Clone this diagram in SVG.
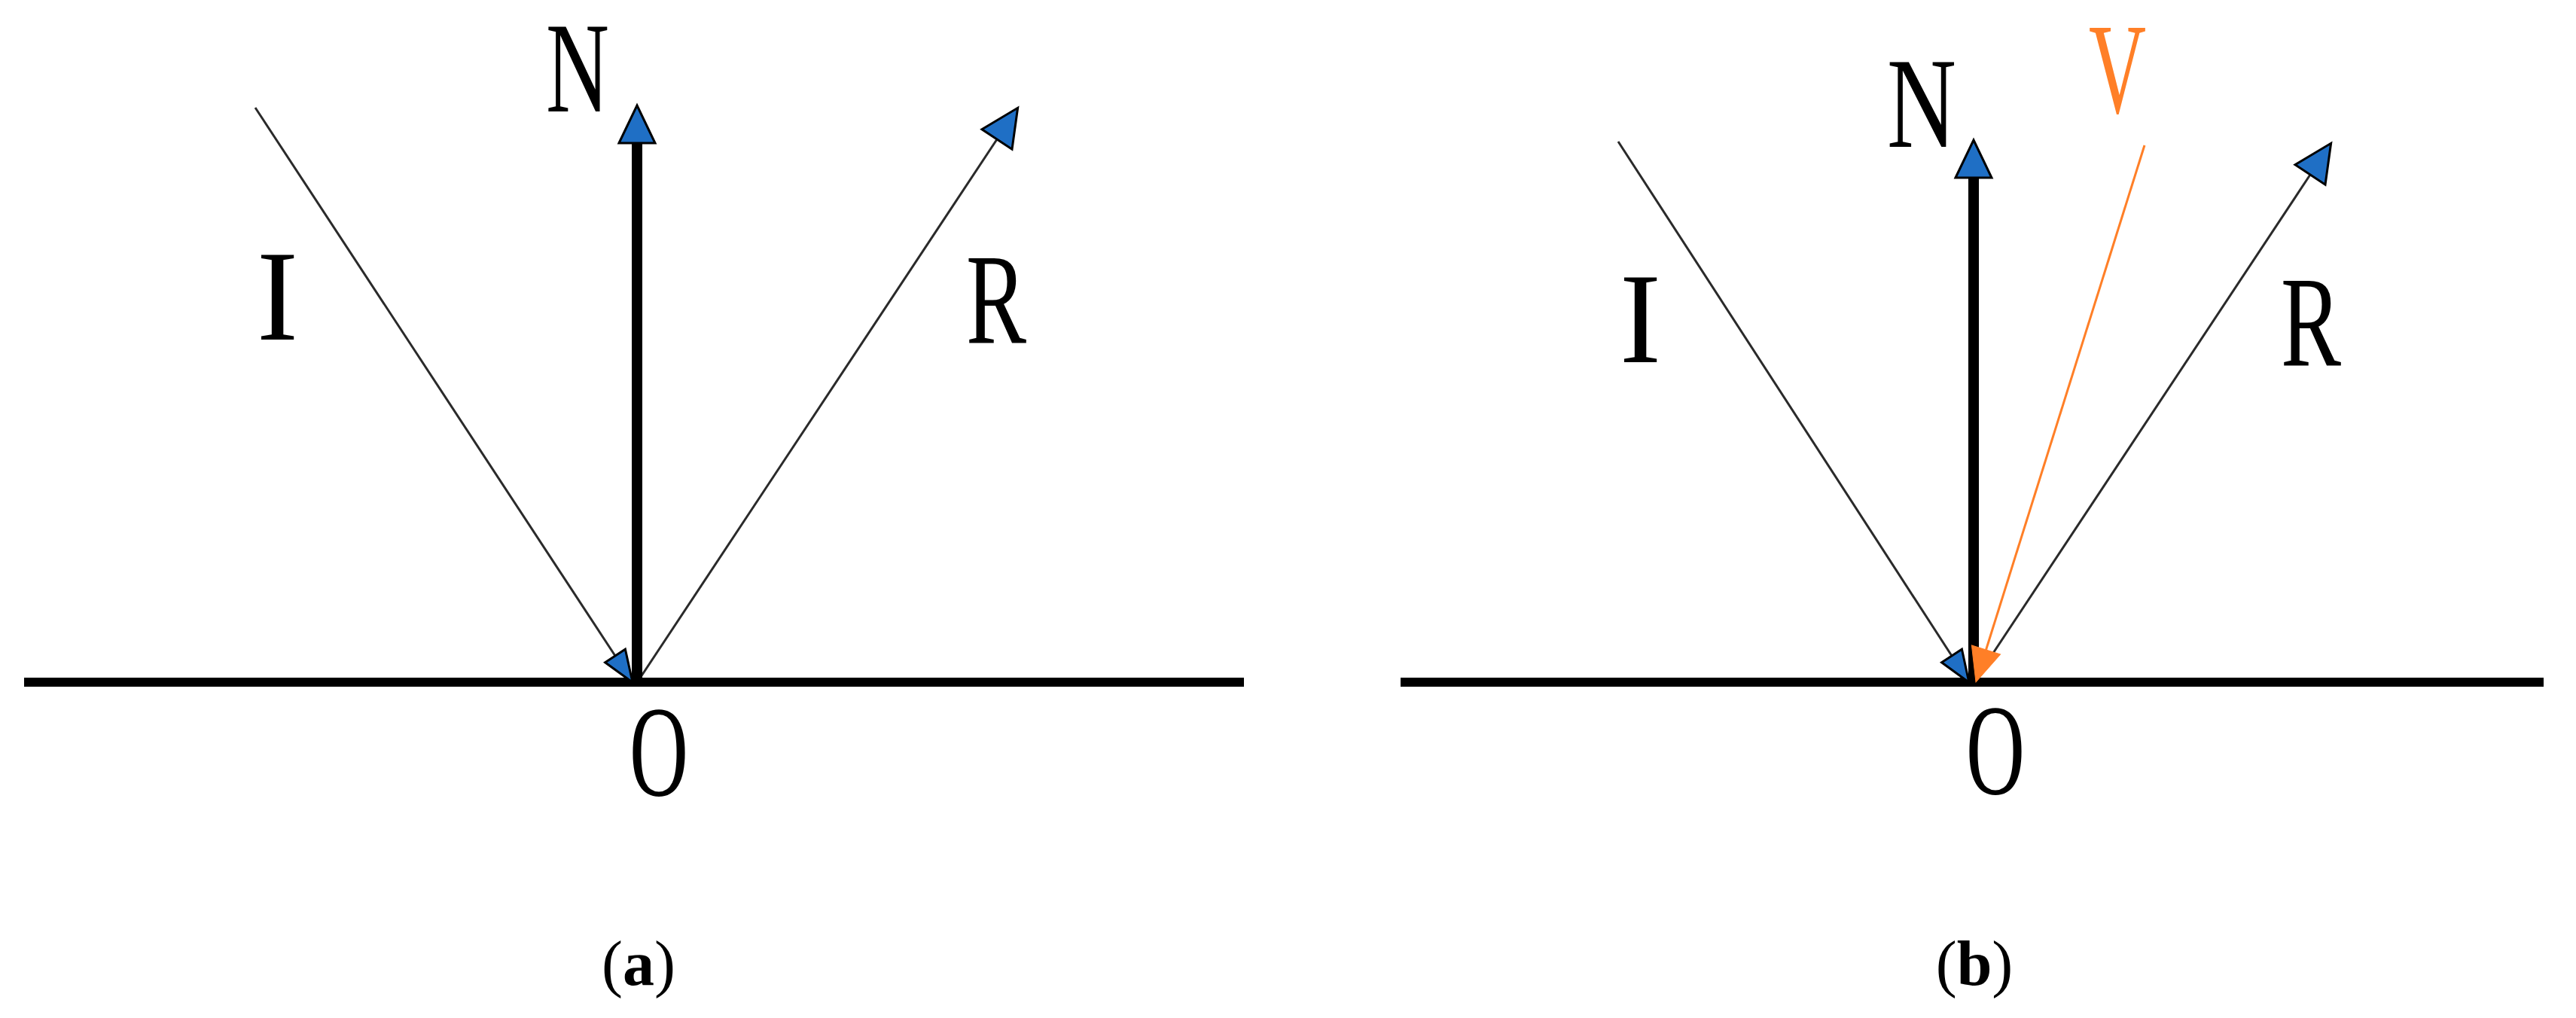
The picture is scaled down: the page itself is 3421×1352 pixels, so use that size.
<svg xmlns="http://www.w3.org/2000/svg" width="3421" height="1352" viewBox="0 0 3421 1352">
<style>
.bg{fill:#ffffff}
.ground{stroke:#000;stroke-width:12;fill:none}
.normal{stroke:#000;stroke-width:14;fill:none}
.ray{stroke:#2a2a2a;stroke-width:3;fill:none}
.view{stroke:#FF7F27;stroke-width:3;fill:none}
.lbl{font-family:"Liberation Serif","Times New Roman",serif;font-size:172px;fill:#000}
.lblV{font-family:"Liberation Serif","Times New Roman",serif;font-size:172px;fill:#FF7F27}
.cap{font-family:"Liberation Serif","Times New Roman",serif;font-size:84px;fill:#000;text-anchor:middle}
</style>
<defs>
<marker id="arrowL" markerUnits="userSpaceOnUse" viewBox="-4 -30 60 60" markerWidth="60" markerHeight="60" refX="0" refY="0" orient="auto" overflow="visible">
<path d="M0,-24 L50,0 L0,24 Z" fill="#1F6FC5" stroke="#000" stroke-width="3" stroke-linejoin="miter"/>
</marker>
<marker id="arrowS" markerUnits="userSpaceOnUse" viewBox="-4 -30 60 60" markerWidth="60" markerHeight="60" refX="0" refY="0" orient="auto" overflow="visible">
<path d="M0,-16 L42,0 L0,16 Z" fill="#1F6FC5" stroke="#000" stroke-width="3"/>
</marker>
<marker id="arrowO" markerUnits="userSpaceOnUse" viewBox="-4 -30 60 60" markerWidth="60" markerHeight="60" refX="0" refY="0" orient="auto" overflow="visible">
<path d="M0,-20 L45,0 L0,20 Z" fill="#FF7F27" stroke="#FF7F27" stroke-width="1"/>
</marker>
</defs>
<rect class="bg" x="0" y="0" width="3421" height="1352"/>

<g id="connectors">
<!-- panel a -->
<line class="ground" x1="32" y1="906" x2="1652" y2="906"/>
<line class="ray" x1="339" y1="143" x2="817" y2="871" marker-end="url(#arrowS)"/>
<line class="ray" x1="847" y1="905" x2="1324" y2="185" marker-end="url(#arrowL)"/>
<line class="normal" x1="846" y1="906" x2="846" y2="190" marker-end="url(#arrowL)"/>
<!-- panel b -->
<line class="ground" x1="1860" y1="906" x2="3378" y2="906"/>
<line class="ray" x1="2149" y1="188" x2="2592" y2="871" marker-end="url(#arrowS)"/>
<line class="ray" x1="2622" y1="905" x2="3068" y2="232" marker-end="url(#arrowL)"/>
<line class="normal" x1="2621" y1="906" x2="2621" y2="236" marker-end="url(#arrowL)"/>
<line class="view" x1="2848" y1="193" x2="2637.5" y2="863" marker-end="url(#arrowO)"/>
</g>

<g id="panel-a">
<g id="a-N"><text class="lbl" x="725" y="148" textLength="84" lengthAdjust="spacingAndGlyphs">N</text></g>
<g id="a-I"><text class="lbl" x="341" y="451" textLength="55" lengthAdjust="spacingAndGlyphs">I</text></g>
<g id="a-R"><text class="lbl" x="1283" y="455" textLength="80" lengthAdjust="spacingAndGlyphs">R</text></g>
<g id="a-O"><text class="lbl" x="836" y="1056" textLength="78" lengthAdjust="spacingAndGlyphs">O</text></g>
<g id="a-caption"><text class="cap" x="848" y="1308">(<tspan font-weight="bold">a</tspan>)</text></g>
</g>

<g id="panel-b">
<g id="b-N"><text class="lbl" x="2506" y="195" textLength="92" lengthAdjust="spacingAndGlyphs">N</text></g>
<g id="b-V"><text class="lblV" x="2774" y="149" textLength="76" lengthAdjust="spacingAndGlyphs">V</text></g>
<g id="b-I"><text class="lbl" x="2151" y="481" textLength="55" lengthAdjust="spacingAndGlyphs">I</text></g>
<g id="b-R"><text class="lbl" x="3029" y="485" textLength="80" lengthAdjust="spacingAndGlyphs">R</text></g>
<g id="b-O"><text class="lbl" x="2611" y="1054" textLength="78" lengthAdjust="spacingAndGlyphs">O</text></g>
<g id="b-caption"><text class="cap" x="2622" y="1308">(<tspan font-weight="bold">b</tspan>)</text></g>
</g>
</svg>
